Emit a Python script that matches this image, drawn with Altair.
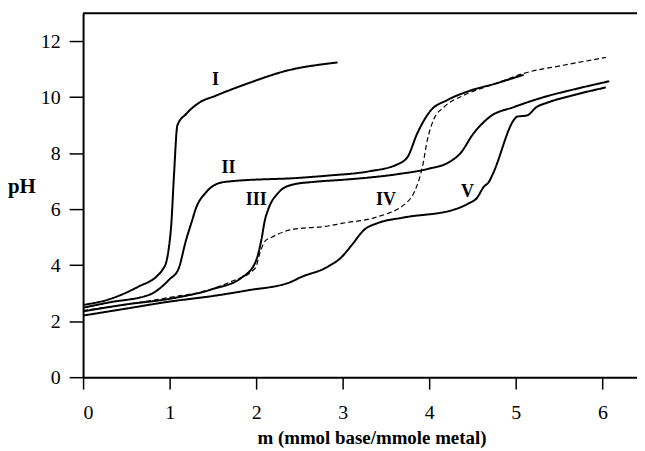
import altair as alt
import pandas as pd

# Curve data
I_x = [0, 0.3, 0.65, 0.85, 0.92, 0.96, 0.99, 1.02, 1.05, 1.09, 1.19, 1.34, 1.53, 1.91, 2.37, 2.83, 2.94]
I_y = [2.58, 2.78, 3.25, 3.6, 3.85, 4.1, 4.6, 5.5, 7.2, 9.0, 9.4, 9.8, 10.05, 10.5, 10.96, 11.2, 11.24]

II_x = [0, 0.3, 0.77, 1.0, 1.1, 1.19, 1.26, 1.30, 1.42, 1.57, 1.72, 2.5, 2.83, 3.3, 3.63, 3.75, 3.86, 4.01, 4.21, 4.44, 4.78, 5.09]
II_y = [2.48, 2.67, 2.95, 3.5, 3.85, 4.9, 5.6, 6.0, 6.6, 6.93, 7.0, 7.12, 7.2, 7.35, 7.6, 7.87, 8.7, 9.5, 9.9, 10.2, 10.5, 10.8]

III_x = [0, 0.5, 1.0, 1.5, 1.83, 1.99, 2.06, 2.1, 2.14, 2.26, 2.41, 2.68, 3.0, 3.63, 4.0, 4.21, 4.36, 4.51, 4.7, 4.98, 5.32, 5.7, 6.08]
III_y = [2.35, 2.6, 2.8, 3.15, 3.55, 4.1, 4.9, 5.6, 6.0, 6.6, 6.87, 6.98, 7.05, 7.25, 7.45, 7.65, 8.0, 8.7, 9.3, 9.65, 10.0, 10.3, 10.57]

IV_x = [0, 0.5, 1.0, 1.41, 1.7, 1.99, 2.05, 2.1, 2.18, 2.41, 2.83, 3.0, 3.37, 3.75, 3.84, 3.92, 3.98, 4.05, 4.17, 4.4, 4.78, 5.09, 5.55, 6.04]
IV_y = [2.38, 2.6, 2.85, 3.08, 3.4, 3.9, 4.5, 4.85, 5.0, 5.27, 5.4, 5.5, 5.7, 6.27, 6.7, 7.5, 8.5, 9.2, 9.65, 10.07, 10.5, 10.85, 11.14, 11.42]

V_x = [0, 0.5, 1.0, 1.5, 1.9, 2.4, 2.5, 2.83, 2.98, 3.1, 3.25, 3.4, 3.7, 4.28, 4.45, 4.55, 4.63, 4.69, 4.74, 4.98, 5.01, 5.13, 5.24, 5.36, 5.7, 6.04]
V_y = [2.2, 2.45, 2.7, 2.9, 3.1, 3.4, 3.55, 3.95, 4.27, 4.7, 5.27, 5.5, 5.7, 5.98, 6.2, 6.4, 6.8, 6.98, 7.3, 9.2, 9.3, 9.35, 9.65, 9.8, 10.1, 10.35]

label_text = ["I", "II", "III", "IV", "V"]
label_x = [1.53, 1.68, 2.0, 3.5, 4.44]
label_y = [10.6, 7.47, 6.33, 6.33, 6.63]

x_ticks = [0, 1, 2, 3, 4, 5, 6]
y_ticks = [0, 2, 4, 6, 8, 10, 12]

rows = []
for name, xs, ys in [("I", I_x, I_y), ("II", II_x, II_y), ("III", III_x, III_y),
                     ("IV", IV_x, IV_y), ("V", V_x, V_y)]:
    for i, (a, b) in enumerate(zip(xs, ys)):
        rows.append({"series": name, "m": a, "pH": b, "order": i,
                     "style": "dashed" if name == "IV" else "solid"})
df = pd.DataFrame(rows)
labels = pd.DataFrame({"t": label_text, "m": label_x, "pH": label_y})

FONT = "Liberation Serif"

xscale = alt.Scale(domain=[0, 6.4], nice=False, zero=False)
yscale = alt.Scale(domain=[0, 13], nice=False)

lines = alt.Chart(df).mark_line(color="black", interpolate="monotone").encode(
    x=alt.X("m:Q", scale=xscale,
            axis=alt.Axis(values=x_ticks, title="m (mmol base/mmole metal)",
                          grid=False, tickSize=12, labelPadding=14,
                          titleFontSize=19, titleFontWeight="bold", titleFont=FONT,
                          titlePadding=6, titleX=290, labelFont=FONT, labelFontSize=20,
                          labelColor="black", titleColor="black", domainColor="black",
                          tickColor="black", domainWidth=2, tickWidth=1.5, format="d")),
    y=alt.Y("pH:Q", scale=yscale,
            axis=alt.Axis(values=y_ticks, title="pH", titleAngle=0, titleX=-62, titleY=180,
                          titleAlign="center", titleBaseline="alphabetic",
                          titleFontSize=21, titleFontWeight="bold", titleFont=FONT,
                          grid=False, tickSize=14, labelPadding=9, labelFont=FONT,
                          labelFontSize=20, labelColor="black", titleColor="black",
                          domainColor="black", tickColor="black", domainWidth=2,
                          tickWidth=1.5, format="d")),
    detail="series:N",
    order="order:Q",
    strokeDash=alt.StrokeDash("style:N", scale=alt.Scale(domain=["solid", "dashed"],
                                                          range=[[1, 0], [5, 3]]), legend=None),
    strokeWidth=alt.StrokeWidth("style:N", scale=alt.Scale(domain=["solid", "dashed"],
                                                           range=[2, 1.2]), legend=None),
)

top = alt.Chart(pd.DataFrame({"pH": [13]})).mark_rule(color="black", strokeWidth=2).encode(
    y=alt.Y("pH:Q", scale=yscale)
)

text = alt.Chart(labels).mark_text(font=FONT, fontSize=18, fontWeight="bold", color="black").encode(
    x=alt.X("m:Q", scale=xscale), y=alt.Y("pH:Q", scale=yscale), text="t:N"
)

chart = alt.layer(lines, top, text).properties(
    width=557, height=366,
    autosize=alt.AutoSizeParams(type="none"),
    padding={"left": 75.5, "top": 4, "right": 0, "bottom": 72},
).configure_view(stroke=None)

chart.save("out.html", embed_options={"renderer": "svg", "actions": False})
